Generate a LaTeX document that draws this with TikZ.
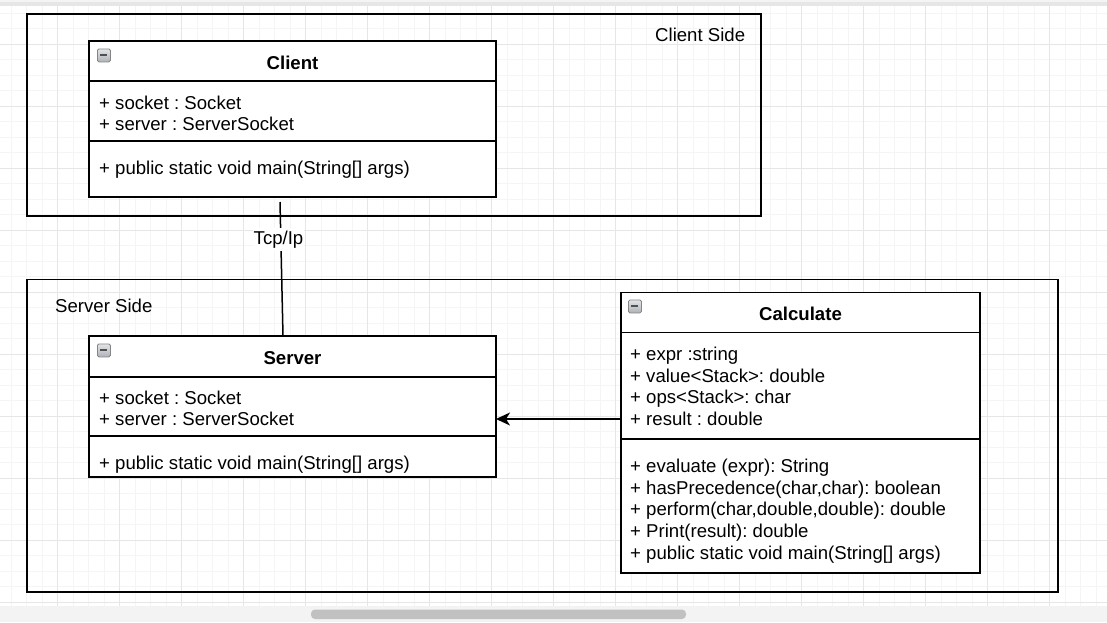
\documentclass[tikz,border=0pt]{standalone}
\usepackage{fontspec}
\setmainfont{Liberation Sans}
\usetikzlibrary{arrows.meta}
\frenchspacing
\definecolor{minorgrid}{HTML}{F5F5F5}
\definecolor{majorgrid}{HTML}{E6E6E6}
\definecolor{topband}{HTML}{E6E6E6}
\definecolor{topband2}{HTML}{F4F4F4}
\definecolor{botband}{HTML}{F3F3F3}
\definecolor{scrollc}{HTML}{C1C1C1}
\definecolor{icontop}{HTML}{E2E5E8}
\definecolor{iconbot}{HTML}{AEB2B6}
\definecolor{iconborder}{HTML}{858585}
\definecolor{iconbar}{HTML}{505050}
\begin{document}
\frenchspacing
\begin{tikzpicture}[x=1pt,y=-1pt,
  minorline/.style={draw=minorgrid,line width=1pt},
  majorline/.style={draw=majorgrid,line width=1pt},
  container/.style={draw=black,line width=1.5pt},
  umlpart/.style={draw=black,fill=white,line width=1.5pt,rectangle,anchor=north west,inner sep=0pt,outer sep=0pt},
  txt/.style={font=\fontsize{18.6pt}{21.7pt}\selectfont\frenchspacing,inner sep=0pt,anchor=base west,text=black},
  ttl/.style={font=\fontsize{18.6pt}{21.7pt}\selectfont\bfseries,inner sep=0pt,anchor=base,text=black},
  minusicon/.style={rectangle,rounded corners=1.5pt,draw=iconborder,line width=0.8pt,top color=icontop,bottom color=iconbot,minimum width=13pt,minimum height=13pt,inner sep=0pt,anchor=north west},
  connector/.style={draw=black,line width=1.5pt},
  assoc/.style={draw=black,line width=1.5pt,-{Stealth[length=14pt,width=13pt,inset=4pt]}}
]
\useasboundingbox (0,0) rectangle (1107,622);
\fill[white] (0,0) rectangle (1107,622);
% grid
\begin{scope}
\clip (0,6) rectangle (1107,606);
\foreach \i in {0,...,70} \draw[minorline] ({11+15.5*\i},6) -- ({11+15.5*\i},606);
\foreach \j in {0,...,38} \draw[minorline] (0,{13+15.5*\j}) -- (1107,{13+15.5*\j});
\foreach \i in {0,...,16} \draw[majorline] ({57.5+62*\i},6) -- ({57.5+62*\i},606);
\foreach \j in {0,...,9} \draw[majorline] (0,{44+62*\j}) -- (1107,{44+62*\j});
\end{scope}
% window chrome
\fill[topband] (0,0) rectangle (1107,6);
\fill[topband2] (0,0) rectangle (1107,2);
\fill[botband] (0,606) rectangle (1107,622);
\fill[scrollc,rounded corners=4pt] (311,609.5) rectangle (686,619);
% containers
\draw[container] (27,14) rectangle (761,216);
\node[txt] (clientSide) at (655,41.5) {Client Side};
\draw[container] (27,279.5) rectangle (1058,592);
\node[txt] (serverSide) at (55,312.5) {Server Side};
% connector Tcp/Ip
\coordinate (tcpTop) at (280,202);
\coordinate (tcpBot) at (283,336);
\draw[connector] (tcpTop) -- (tcpBot);
\node[font=\fontsize{18.6pt}{21.7pt}\selectfont,fill=white,inner xsep=1pt,inner ysep=3pt,anchor=base] (tcpLabel) at (278.5,244.3) {Tcp/Ip};
% Client class
\node[umlpart,minimum width=407pt,minimum height=40pt] (clientHead) at (89,41) {};
\node[umlpart,minimum width=407pt,minimum height=60pt] (clientAttr) at (89,81) {};
\node[umlpart,minimum width=407pt,minimum height=56pt] (clientMeth) at (89,141) {};
\node[minusicon] (clientIcon) at (97,48.5) {};
\draw[iconbar,line width=2pt] (clientIcon.west) ++(3,0) -- ++(7,0);
\node[ttl] (clientTitle) at (292.5,69.5) {Client};
\node[txt] (clientA1) at (99,109) {+ socket : Socket};
\node[txt] (clientA2) at (99,130.7) {+ server : ServerSocket};
\node[txt] (clientM1) at (99,174) {+ public static void main(String[] args)};
% Server class
\node[umlpart,minimum width=407pt,minimum height=41pt] (serverHead) at (89,336) {};
\node[umlpart,minimum width=407pt,minimum height=59pt] (serverAttr) at (89,377) {};
\node[umlpart,minimum width=407pt,minimum height=41pt] (serverMeth) at (89,436) {};
\node[minusicon] (serverIcon) at (97,343.5) {};
\draw[iconbar,line width=2pt] (serverIcon.west) ++(3,0) -- ++(7,0);
\node[ttl] (serverTitle) at (292.5,364.5) {Server};
\node[txt] (serverA1) at (99,404) {+ socket : Socket};
\node[txt] (serverA2) at (99,425.7) {+ server : ServerSocket};
\node[txt] (serverM1) at (99,469) {+ public static void main(String[] args)};
% Calculate class
\node[umlpart,minimum width=359pt,minimum height=40pt] (calcHead) at (621,292.5) {};
\node[umlpart,minimum width=359pt,minimum height=106.5pt] (calcAttr) at (621,332.5) {};
\node[umlpart,minimum width=359pt,minimum height=134pt] (calcMeth) at (621,439) {};
\node[minusicon] (calcIcon) at (628,299.5) {};
\draw[iconbar,line width=2pt] (calcIcon.west) ++(3,0) -- ++(7,0);
\node[ttl] (calcTitle) at (800.5,320.7) {Calculate};
\node[txt] (calcA1) at (630,360.5) {+ expr :string};
\node[txt] (calcA2) at (630,382.2) {+ value<Stack>: double};
\node[txt] (calcA3) at (630,403.9) {+ ops<Stack>: char};
\node[txt] (calcA4) at (630,425.6) {+ result : double};
\node[txt] (calcM1) at (630,472.3) {+ evaluate (expr): String};
\node[txt] (calcM2) at (630,494) {+ hasPrecedence(char,char): boolean};
\node[txt] (calcM3) at (630,515.7) {+ perform(char,double,double): double};
\node[txt] (calcM4) at (630,537.4) {+ Print(result): double};
\node[txt] (calcM5) at (630,559.1) {+ public static void main(String[] args)};
% association arrow
\coordinate (arrowY) at (0,419);
\draw[assoc] (calcAttr.west |- arrowY) -- (serverAttr.east |- arrowY);
\end{tikzpicture}
\end{document}
